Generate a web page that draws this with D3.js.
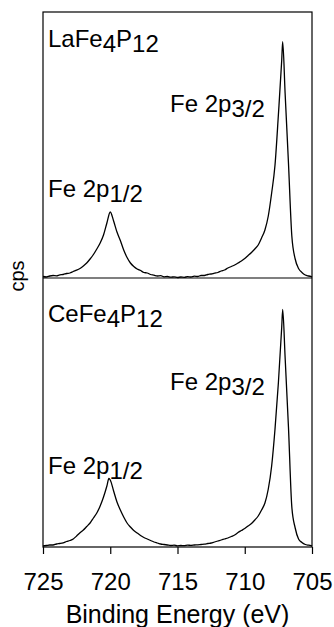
<!DOCTYPE html>
<html><head><meta charset="utf-8">
<script src="https://cdn.jsdelivr.net/npm/d3@7"></script>
<style>
html,body{margin:0;padding:0;background:#fff;}
svg{display:block;}
text{font-family:"Liberation Sans",Arial,Helvetica,sans-serif;fill:#000;}
</style>
</head><body>
<svg id="c" width="334" height="627"></svg>
<script>
// ---- data (binding energy in eV, intensity in arbitrary cps units) ----
const energyTop = [725.00,724.75,724.50,724.25,724.00,723.75,723.50,723.25,723.00,722.75,722.50,722.25,722.00,721.75,721.50,721.25,721.00,720.75,720.50,720.25,720.00,719.75,719.50,719.25,719.00,718.75,718.50,718.25,718.00,717.75,717.50,717.25,717.00,716.75,716.50,716.25,716.00,715.75,715.50,715.25,715.00,714.75,714.50,714.25,714.00,713.75,713.50,713.25,713.00,712.75,712.50,712.25,712.00,711.75,711.50,711.25,711.00,710.75,710.50,710.25,710.00,709.75,709.50,709.25,709.00,708.75,708.50,708.25,708.00,707.75,707.50,707.25,707.18,707.00,706.75,706.50,706.25,706.00,705.75,705.50,705.25,705.00];
const cpsTop = [1.5,1.0,2.0,2.5,2.2,3.2,3.5,4.5,5.0,6.5,7.8,9.5,12.0,15.0,19.0,23.5,29.0,35.0,43.0,55.0,66.0,57.0,46.0,37.5,28.0,20.5,15.0,11.5,9.0,7.5,5.5,5.0,3.5,2.8,2.0,2.3,1.2,1.5,0.8,1.2,0.5,1.0,0.7,1.3,1.0,1.8,1.5,2.5,2.5,3.5,4.0,4.8,5.5,7.0,8.0,10.0,11.5,13.0,15.0,17.0,19.5,22.5,25.5,29.0,33.0,40.0,48.0,62.0,85.0,113.0,163.0,218.0,236.3,185.0,115.0,42.0,19.0,9.5,5.5,3.0,2.0,1.2];

const energyBottom = [725.00,724.75,724.50,724.25,724.00,723.75,723.50,723.25,723.00,722.75,722.50,722.25,722.00,721.75,721.50,721.25,721.00,720.75,720.50,720.25,720.10,720.00,719.75,719.50,719.25,719.00,718.75,718.50,718.25,718.00,717.75,717.50,717.25,717.00,716.75,716.50,716.25,716.00,715.75,715.50,715.25,715.00,714.75,714.50,714.25,714.00,713.75,713.50,713.25,713.00,712.75,712.50,712.25,712.00,711.75,711.50,711.25,711.00,710.75,710.50,710.25,710.00,709.75,709.50,709.25,709.00,708.75,708.50,708.25,708.00,707.75,707.50,707.25,707.18,707.00,706.75,706.50,706.25,706.00,705.75,705.50,705.25,705.00];
const cpsBottom = [1.0,1.5,2.0,2.0,3.0,3.5,4.2,5.5,6.5,8.0,11.0,14.2,17.0,20.5,24.0,29.0,34.0,41.0,50.0,61.0,68.5,67.0,56.0,45.0,37.0,30.0,24.0,20.0,16.5,14.0,11.5,9.5,8.0,6.5,5.0,4.0,3.0,2.5,2.0,1.5,1.8,1.2,1.5,1.3,1.8,1.7,2.0,2.2,2.5,2.8,3.5,4.0,5.0,6.0,7.0,8.0,9.0,10.5,12.0,14.5,16.5,18.5,21.0,23.5,27.0,31.0,37.0,44.0,58.0,81.0,118.0,164.0,220.0,237.5,190.0,120.0,40.0,19.0,8.0,4.5,2.5,1.8,1.2];

const xTicks = [725, 720, 715, 710, 705];
const xDomain = [725, 705];
const yMaxTop = 266;
const yMaxBottom = 269;
const sampleTop = ["LaFe", "4", "P", "12"];
const sampleBottom = ["CeFe", "4", "P", "12"];
const peakMain = "Fe 2p";
const peakSub32 = "3/2";
const peakSub12 = "1/2";
const xTitle = "Binding Energy (eV)";
const yTitle = "cps";

// ---- layout ----
const L = 43, R = 312, T = 12, M = 278, B = 547;
const svg = d3.select("#c");

const x = d3.scaleLinear().domain(xDomain).range([L, R]);
const yTop = d3.scaleLinear().domain([0, yMaxTop]).range([M, T]);
const yBot = d3.scaleLinear().domain([0, yMaxBottom]).range([B, M]);

const topData = energyTop.map((e, i) => ({e, v: cpsTop[i]}));
const botData = energyBottom.map((e, i) => ({e, v: cpsBottom[i]}));

const lineTop = d3.line().x(d => x(d.e)).y(d => yTop(d.v)).curve(d3.curveMonotoneX);
const lineBot = d3.line().x(d => x(d.e)).y(d => yBot(d.v)).curve(d3.curveMonotoneX);

svg.append("path").datum(topData).attr("d", lineTop)
  .attr("fill", "none").attr("stroke", "#000").attr("stroke-width", 1.3).attr("stroke-linejoin", "round");
svg.append("path").datum(botData).attr("d", lineBot)
  .attr("fill", "none").attr("stroke", "#000").attr("stroke-width", 1.3).attr("stroke-linejoin", "round");

// frame and divider
svg.append("rect").attr("x", L).attr("y", T).attr("width", R - L).attr("height", B - T)
  .attr("fill", "none").attr("stroke", "#000").attr("stroke-width", 1.2);
svg.append("line").attr("x1", L).attr("x2", R).attr("y1", yTop(0)).attr("y2", yTop(0))
  .attr("stroke", "#000").attr("stroke-width", 1.2);

// x axis
const ax = svg.append("g").attr("transform", `translate(0,${B})`)
  .call(d3.axisBottom(x).tickValues(xTicks).tickSize(7).tickPadding(19).tickSizeOuter(0).tickFormat(d3.format("d")));
ax.select(".domain").remove();
ax.selectAll(".tick line").attr("stroke", "#000").attr("stroke-width", 1.2);
ax.selectAll(".tick text").attr("font-size", 24).attr("font-family", "'Liberation Sans', Arial, sans-serif").attr("fill", "#000");

// axis titles
svg.append("text").attr("x", (L + R) / 2).attr("y", 623).attr("text-anchor", "middle")
  .attr("font-size", 25).text(xTitle);
svg.append("text").attr("transform", `translate(24,276) rotate(-90)`).attr("text-anchor", "middle")
  .attr("font-size", 20).text(yTitle);

// labels with subscripts
function sampleLabel(parts, xp, yp) {
  const t = svg.append("text").attr("x", xp).attr("y", yp).attr("font-size", 24);
  t.append("tspan").text(parts[0]);
  t.append("tspan").attr("dy", 5).text(parts[1]);
  t.append("tspan").attr("dy", -5).text(parts[2]);
  t.append("tspan").attr("dy", 5).text(parts[3]);
}
function peakLabel(sub, xp, yp) {
  const t = svg.append("text").attr("x", xp).attr("y", yp).attr("font-size", 24);
  t.append("tspan").text(peakMain);
  t.append("tspan").attr("dy", 5).text(sub);
}
sampleLabel(sampleTop, 48, 47);
sampleLabel(sampleBottom, 48, 322);
peakLabel(peakSub32, 170, 112);
peakLabel(peakSub12, 48, 197);
peakLabel(peakSub32, 170, 389.5);
peakLabel(peakSub12, 48, 473.5);
</script>
</body></html>
